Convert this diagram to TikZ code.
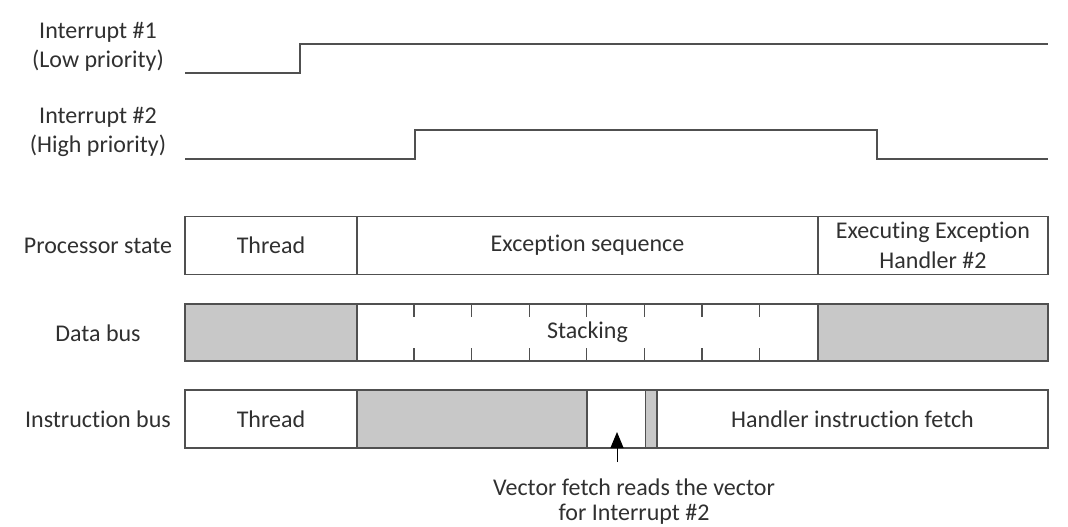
\documentclass[tikz,border=0pt]{standalone}
\usepackage{fontspec}
\setmainfont{Carlito}[Ligatures={NoCommon}]
\usetikzlibrary{arrows.meta,calc}
\definecolor{txt}{HTML}{303030}
\definecolor{ln}{HTML}{505050}
\definecolor{shade}{HTML}{C8C8C8}
\begin{document}
\begin{tikzpicture}[x=1pt,y=-1pt,
  every node/.style={font=\fontsize{24}{29}\selectfont, text=txt},
  lbl/.style={align=center, inner sep=0pt},
  cell/.style={draw=ln, line width=1.4pt, rectangle, inner sep=0pt, align=center},
  graycell/.style={cell, fill=shade},
  wave/.style={draw=ln, line width=1.4pt},
  tick/.style={draw=ln, line width=1.2pt},
  arr/.style={draw=black, line width=1pt, -{Triangle[length=16pt,width=13pt]}}
]
\useasboundingbox (0,0) rectangle (1068,527);
% labels
\node[lbl] (i1) at (98,47) {Interrupt \#1\\(Low priority)};
\node[lbl] (i2) at (98,132) {Interrupt \#2\\(High priority)};
\node[lbl] (lps) at (98,246) {Processor state};
\node[lbl] (ldb) at (98,333) {Data bus};
\node[lbl] (lib) at (98,419.5) {Instruction bus};
% waveforms
\draw[wave] (185,73) -- (300,73) -- (300,44) -- (1048,44);
\draw[wave] (185,159) -- (415,159) -- (415,130) -- (877,130) -- (877,159) -- (1048,159);
% processor state
\node[cell, minimum width=172pt, minimum height=58pt] (ps1) at (271,245.5) {Thread};
\node[cell, minimum width=461pt, minimum height=58pt] (ps2) at (587.5,245.5) {Exception sequence};
\node[cell, minimum width=230pt, minimum height=58pt, font=\fontsize{24}{30}\selectfont] (ps3) at (933,245.5) {Executing Exception\\Handler \#2};
% data bus
\node[graycell, minimum width=172pt, minimum height=57pt] (db1) at (271,332.5) {};
\node[cell, minimum width=461pt, minimum height=57pt] (db2) at (587.5,332.5) {Stacking};
\node[graycell, minimum width=230pt, minimum height=57pt] (db3) at (933,332.5) {};
\foreach \k in {1,...,7}{
  \draw[tick] ($(db2.north west)+(57.625*\k,0)$) -- ++(0,14);
  \draw[tick] ($(db2.south west)+(57.625*\k,0)$) -- ++(0,-14);
}
% instruction bus
\node[cell, minimum width=172pt, minimum height=58pt] (ib1) at (271,419) {Thread};
\node[graycell, minimum width=230pt, minimum height=58pt] (ib2) at (472,419) {};
\node[cell, minimum width=58.5pt, minimum height=58pt] (ib3) at (616.25,419) {};
\node[graycell, minimum width=11.5pt, minimum height=58pt] (ib4) at (651.25,419) {};
\node[cell, minimum width=391pt, minimum height=58pt] (ib5) at (852.5,419) {Handler instruction fetch};
% note
\node[lbl, font=\fontsize{24}{25}\selectfont] (note) at (634,502) {Vector fetch reads the vector\\for Interrupt \#2};
\coordinate (vs) at (617,462);
\coordinate (vt) at (617,432);
\draw[arr] (vs) -- (vt);
\end{tikzpicture}
\end{document}
